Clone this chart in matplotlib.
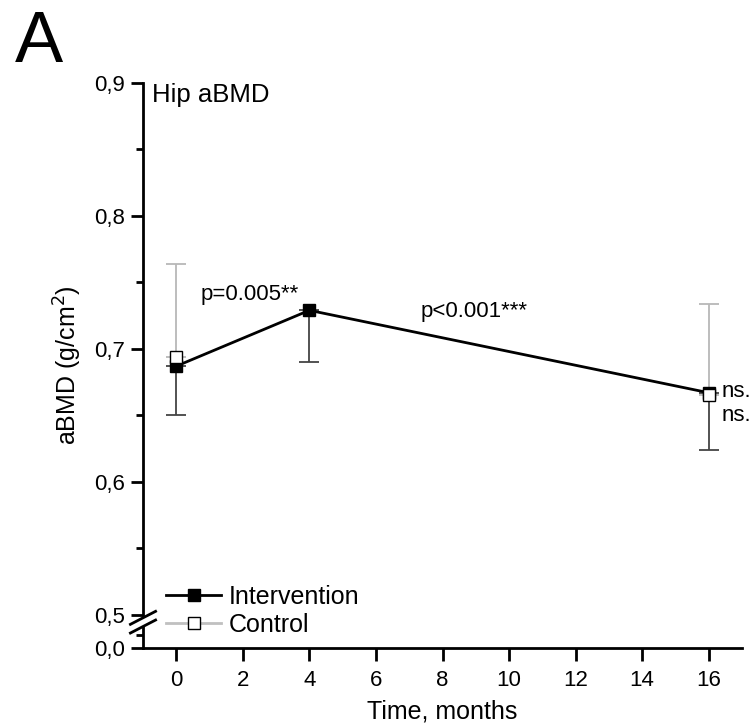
import matplotlib
matplotlib.use("Agg")
import matplotlib.pyplot as plt
import numpy as np
from matplotlib.ticker import FixedLocator

plt.rcParams['font.family'] = ['Liberation Sans', 'DejaVu Sans']

# ---- data ----
months_int = [0, 4, 16]
int_mean = [0.687, 0.729, 0.667]
int_low_err = [0.037, 0.039, 0.043]   # downward SD

months_ctl = [0, 16]
ctl_mean = [0.694, 0.665]
ctl_up_err = [0.070, 0.069]           # upward SD

xticks = [0, 2, 4, 6, 8, 10, 12, 14, 16]
yticks = [0.0, 0.5, 0.6, 0.7, 0.8, 0.9]
yticklabels = ["0,0", "0,5", "0,6", "0,7", "0,8", "0,9"]
yminor = [0.2, 0.55, 0.65, 0.75, 0.85]

BREAK = 0.5
COMP = 0.05


def fwd(y):
    y = np.asarray(y, dtype=float)
    return np.where(y >= BREAK, y, BREAK - (BREAK - y) * COMP)


def inv(t):
    t = np.asarray(t, dtype=float)
    return np.where(t >= BREAK, t, BREAK - (BREAK - t) / COMP)


fig = plt.figure(figsize=(7.53, 7.24), dpi=100)
ax = fig.add_axes([143 / 753, 1 - 648 / 724, (742 - 143) / 753, (648 - 83) / 724])
ax.set_yscale('function', functions=(fwd, inv))
ax.set_xlim(-1, 17)
ax.set_ylim(0.0, 0.9)

# error bars
ax.errorbar(months_int, int_mean, yerr=[int_low_err, [0] * len(int_low_err)],
            fmt='none', ecolor='#444444', elinewidth=1.3, capsize=7, capthick=1.3, zorder=2)
ax.errorbar(months_ctl, ctl_mean, yerr=[[0] * len(ctl_up_err), ctl_up_err],
            fmt='none', ecolor='#b8b8b8', elinewidth=1.3, capsize=7, capthick=1.3, zorder=2)

# lines + markers
int_line, = ax.plot(months_int, int_mean, color='black', lw=2, marker='s', ms=9,
                    mfc='black', mec='black', zorder=3, label='Intervention')
ax.plot(months_ctl, ctl_mean, ls='none', marker='s', ms=9,
        mfc='white', mec='black', mew=1.0, zorder=4)
# legend handle for control (grey line)
ctl_handle, = ax.plot([], [], color='#c0c0c0', lw=2, marker='s', ms=9,
                      mfc='white', mec='black', mew=1.0, label='Control')

# spines
for s in ['top', 'right']:
    ax.spines[s].set_visible(False)
for s in ['left', 'bottom']:
    ax.spines[s].set_linewidth(2)

ax.set_xticks(xticks)
ax.set_xticklabels([str(v) for v in xticks])
ax.yaxis.set_major_locator(FixedLocator(yticks))
ax.set_yticklabels(yticklabels)
ax.yaxis.set_minor_locator(FixedLocator(yminor))
ax.tick_params(axis='both', which='major', direction='out', length=9, width=2,
               labelsize=16, pad=4)
ax.tick_params(axis='y', which='minor', direction='out', length=5, width=2)
ax.tick_params(axis='x', which='major', pad=7)

ax.set_xlabel("Time, months", fontsize=18, labelpad=6)
ax.set_ylabel("aBMD (g/cm$^2$)", fontsize=18, labelpad=7)

# axis break marks
b1 = 0.0534
b2 = 0.038
ax.plot([0, 0], [b2, b1], transform=ax.transAxes, color='white', lw=4,
        clip_on=False, zorder=10, solid_capstyle='butt')
for b in (b1, b2):
    ax.plot([-0.021, 0.021], [b - 0.0115, b + 0.0115], transform=ax.transAxes,
            color='black', lw=2, clip_on=False, zorder=11)

# annotations
ax.text(0.015, 1.0, "Hip aBMD", transform=ax.transAxes, fontsize=18.5,
        va='top', ha='left')
ax.text(2.2, 0.741, "p=0.005**", fontsize=16, ha='center', va='center')
ax.text(7.35, 0.728, "p<0.001***", fontsize=16, ha='left', va='center')
ax.text(16.4, 0.668, "ns.", fontsize=16, ha='left', va='center')
ax.text(16.4, 0.650, "ns.", fontsize=16, ha='left', va='center')

leg = ax.legend(handles=[int_line, ctl_handle], loc='lower left',
                bbox_to_anchor=(0.02, 0.0), frameon=False, fontsize=18,
                handlelength=2.2, handletextpad=0.3, labelspacing=0.15,
                borderaxespad=0.05)

fig.text(15 / 753, 1 - 62 / 724, "A", fontsize=52, ha='left', va='baseline')

fig.savefig("out.png", dpi=100)
